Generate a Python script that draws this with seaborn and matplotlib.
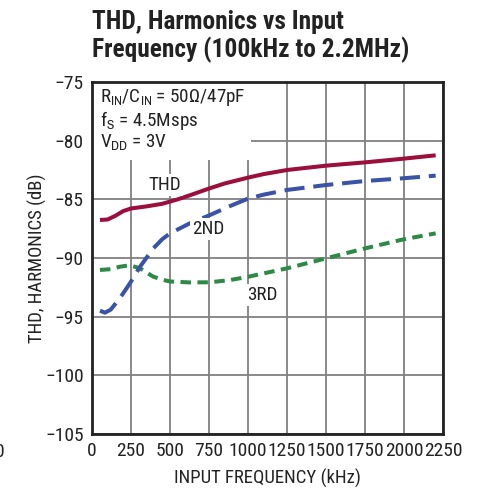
import matplotlib
matplotlib.use('Agg')
import matplotlib.pyplot as plt
import matplotlib.patches as mpatches
import seaborn as sns
import pandas as pd

# values
thd_freq = [51, 100, 150, 200, 250, 350, 450, 550, 650, 750, 850, 1000, 1100, 1250, 1500, 1750, 2000, 2203]
thd_db = [-86.76, -86.72, -86.4, -86.0, -85.78, -85.6, -85.38, -85.0, -84.55, -84.08, -83.65, -83.15, -82.85, -82.5, -82.13, -81.85, -81.53, -81.25]

h2_freq = [51, 83, 120, 180, 243, 308, 393, 450, 500, 628, 756, 880, 1000, 1100, 1250, 1500, 1750, 2000, 2203]
h2_db = [-94.49, -94.66, -94.4, -93.4, -92.16, -90.74, -89.18, -88.4, -87.9, -87.04, -86.34, -85.6, -84.94, -84.6, -84.2, -83.78, -83.44, -83.2, -82.98]

h3_freq = [51, 120, 180, 243, 308, 350, 393, 450, 500, 620, 756, 885, 1000, 1250, 1500, 1750, 2000, 2203]
h3_db = [-91.02, -90.95, -90.74, -90.62, -90.88, -91.25, -91.59, -91.85, -92.0, -92.08, -92.07, -91.88, -91.6, -90.88, -90.03, -89.18, -88.4, -87.9]

x_ticks = [0, 250, 500, 750, 1000, 1250, 1500, 1750, 2000, 2250]
y_ticks = [-105, -100, -95, -90, -85, -80, -75]

df = pd.concat([
    pd.DataFrame({"freq": thd_freq, "db": thd_db, "series": "THD"}),
    pd.DataFrame({"freq": h2_freq, "db": h2_db, "series": "2ND"}),
    pd.DataFrame({"freq": h3_freq, "db": h3_db, "series": "3RD"}),
])

sns.set_theme(style="whitegrid")
FONT = ['Roboto Condensed', 'Archivo Narrow', 'DejaVu Sans']
TITLE_FONT = ['Roboto Condensed', 'Barlow Semi Condensed', 'DejaVu Sans']
plt.rcParams['font.family'] = FONT
plt.rcParams['mathtext.fontset'] = 'custom'
plt.rcParams['mathtext.rm'] = 'Archivo Narrow'
plt.rcParams['axes.unicode_minus'] = True

fig = plt.figure(figsize=(4.88, 4.94), dpi=100)
ax = fig.add_axes([92/488, 1 - 434/494, 351/488, 352/494])

colors = {"THD": "#9c0f3c", "2ND": "#3b53a6", "3RD": "#2d8a45"}
dashes = {"THD": "", "2ND": (5, 2.2), "3RD": (2.6, 1.6)}
for name in ["3RD", "2ND", "THD"]:
    sub = df[df.series == name]
    sns.lineplot(data=sub, x="freq", y="db", ax=ax, color=colors[name],
                 linewidth=2.9, dashes=False, zorder=3)
    ln = ax.lines[-1]
    if dashes[name]:
        ln.set_dashes(dashes[name])
    ln.set_solid_capstyle('butt')
    ln.set_solid_joinstyle('round')

ax.set_xlim(0, 2250)
ax.set_ylim(-105, -75)
ax.set_xticks(x_ticks)
ax.set_yticks(y_ticks)
ax.set_xticklabels([str(v) for v in x_ticks])
ax.set_yticklabels([str(v).replace('-', '\u2212') for v in y_ticks])
ax.tick_params(axis='both', labelsize=14, length=0, pad=6, colors='#222222')
ax.set_xlabel("INPUT FREQUENCY (kHz)", fontsize=13.5, color='#222222')
ax.set_ylabel("THD, HARMONICS (dB)", fontsize=13.5, color='#222222')
ax.xaxis.set_label_coords(0.5, -0.098)
ax.yaxis.set_label_coords(-0.127, 0.5)
ax.grid(True, color='#808080', linewidth=1.3)
ax.set_axisbelow(True)
for s in ax.spines.values():
    s.set_color('#222222')
    s.set_linewidth(2)
    s.set_visible(True)
ax.set_facecolor('white')

# white box behind condition text
ax.add_patch(mpatches.Rectangle((0, 0.778), 0.453, 0.222, transform=ax.transAxes,
                                facecolor='white', edgecolor='none', zorder=1.5))
cond = [r"R$_{\mathrm{IN}}$/C$_{\mathrm{IN}}$ = 50Ω/47pF",
        r"f$_{\mathrm{S}}$ = 4.5Msps",
        r"V$_{\mathrm{DD}}$ = 3V"]
for i, t in enumerate(cond):
    ax.text(0.023, 0.955 - i * 0.064, t, transform=ax.transAxes, fontsize=13.8,
            va='center', ha='left', color='#222222', zorder=4)

lbl_box = dict(facecolor='white', edgecolor='none', pad=1.5)
ax.text(468, -83.8, "THD", fontsize=13.8, ha='center', va='center', color='#222222', bbox=lbl_box, zorder=4)
ax.text(744, -87.55, "2ND", fontsize=13.8, ha='center', va='center', color='#222222', bbox=lbl_box, zorder=4)
ax.text(1090, -93.15, "3RD", fontsize=13.8, ha='center', va='center', color='#222222', bbox=lbl_box, zorder=4)

fig.text(92/488, 1 - 22/494, "THD, Harmonics vs Input", fontsize=18.3, fontweight='bold',
         family=TITLE_FONT, ha='left', va='center', color='#222222')
fig.text(92/488, 1 - 50/494, "Frequency (100kHz to 2.2MHz)", fontsize=18.3, fontweight='bold',
         family=TITLE_FONT, ha='left', va='center', color='#222222')
# clipped tick from neighbouring chart at left edge
fig.text(0.0, 1 - 452/494, "0", fontsize=14, ha='center', va='center', color='#222222')

fig.savefig("out.png", dpi=100, facecolor='white')
